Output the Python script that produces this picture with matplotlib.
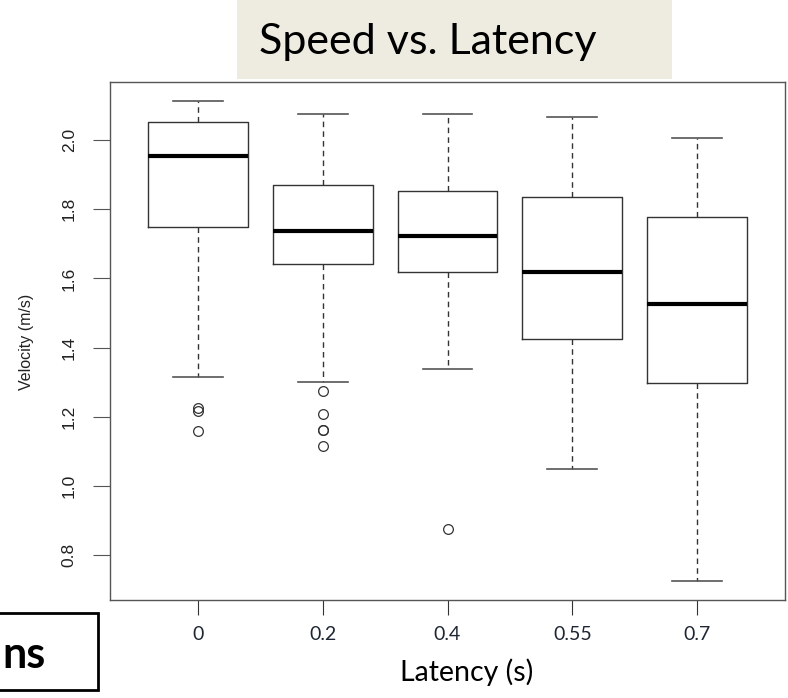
import matplotlib
matplotlib.use('Agg')
import matplotlib.pyplot as plt
from matplotlib.patches import Rectangle

# velocity summaries per latency
latency = ['0', '0.2', '0.4', '0.55', '0.7']
whislo = [1.315, 1.300, 1.338, 1.049, 0.725]
q1 = [1.748, 1.641, 1.618, 1.425, 1.297]
med = [1.954, 1.737, 1.722, 1.618, 1.526]
q3 = [2.052, 1.870, 1.853, 1.835, 1.777]
whishi = [2.113, 2.075, 2.075, 2.067, 2.006]
fliers = [[1.225, 1.216, 1.158],
          [1.274, 1.208, 1.161, 1.161, 1.115],
          [0.875],
          [],
          []]
yticks = [0.8, 1.0, 1.2, 1.4, 1.6, 1.8, 2.0]

W, H = 788, 698
fig = plt.figure(figsize=(W / 100, H / 100), dpi=100)
ax = fig.add_axes([110 / W, 1 - 600 / H, 675 / W, 518 / H])

stats = []
for i in range(len(latency)):
    stats.append(dict(label=latency[i], whislo=whislo[i], q1=q1[i], med=med[i],
                      q3=q3[i], whishi=whishi[i], fliers=fliers[i]))

ax.bxp(stats, positions=range(1, 6), widths=0.8, capwidths=0.4,
       boxprops=dict(color='#333333', lw=1),
       medianprops=dict(color='black', lw=3),
       whiskerprops=dict(color='#333333', lw=1, linestyle=(0, (4, 3))),
       capprops=dict(color='#555555', lw=1.2),
       flierprops=dict(marker='o', mfc='none', mec='#333333', ms=7, mew=0.9))

ax.set_xlim(0.295, 5.705)
ax.set_ylim(0.670, 2.168)
for s in ax.spines.values():
    s.set_color('#555555')
    s.set_linewidth(1)

ax.set_yticks(yticks)
ax.set_yticklabels(['%.1f' % v for v in yticks], rotation=90, va='center',
                   fontsize=12.5, family='Liberation Sans', color='#222222')
ax.tick_params(axis='y', length=12, pad=12, color='#555555')
ax.set_xticklabels(latency, fontsize=14, family='Lato', color='#1f2633')
ax.tick_params(axis='x', length=11, pad=8, color='#333333')

# y label
fig.text(27 / W, 1 - 342 / H, 'Velocity (m/s)', rotation=90, ha='center', va='center',
         fontsize=11.5, family='Liberation Sans', color='#222222')

# x label
fig.text(467 / W, 1 - 672 / H, 'Latency (s)', ha='center', va='center',
         fontsize=20.5, family='Lato', color='black')

# title box
fig.patches.append(Rectangle((237 / W, 1 - 79 / H), 435 / W, 79 / H,
                             transform=fig.transFigure, fc='#EEECE1', ec='none'))
fig.text(428 / W, 1 - 42 / H, 'Speed vs. Latency', ha='center', va='center',
         fontsize=31, family='Lato', color='black')

# leftover box at bottom left
fig.patches.append(Rectangle((-5 / W, 1 - 690 / H), 103 / W, 77 / H,
                             transform=fig.transFigure, fc='white', ec='black', lw=2))
fig.text(2 / W, 1 - 668 / H, 'ns', ha='left', va='baseline',
         fontsize=31, family='Lato', weight='bold', color='black')

fig.savefig('out.png', dpi=100)
